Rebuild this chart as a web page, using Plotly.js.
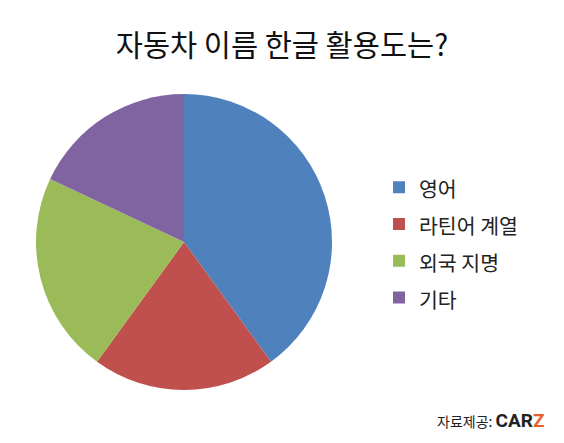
<!DOCTYPE html>
<html>
<head>
<meta charset="utf-8">
<script src="https://cdn.plot.ly/plotly-3.0.1.min.js"></script>
<style>html,body{margin:0;padding:0;background:#fff;}#chart{width:564px;height:443px;}</style>
</head>
<body>
<div id="chart"></div>
<script>
const categories = ['영어', '라틴어 계열', '외국 지명', '기타'];
const shares = [40, 20, 22, 18];
const sliceColors = ['#4f81bd', '#c0504d', '#9bbb59', '#8064a2'];
const titleText = '자동차 이름 한글 활용도는?';
const sourceLabel = '자료제공:';
const sourceBrand = ['CAR', 'Z'];

const FONT = '"Noto Sans CJK KR", "Noto Sans", sans-serif';

const trace = {
  type: 'pie',
  labels: categories.map(c => '<span style="font-size:20.5px">' + c + '</span>'),
  values: shares,
  sort: false,
  direction: 'clockwise',
  rotation: 0,
  textinfo: 'none',
  hoverinfo: 'label+percent',
  marker: { colors: sliceColors, line: { width: 0 } },
  domain: { x: [0.0638, 0.5887], y: [0.1196, 0.7878] }
};

const layout = {
  width: 564,
  height: 443,
  margin: { l: 0, r: 0, t: 0, b: 0 },
  paper_bgcolor: '#ffffff',
  font: { family: FONT, color: '#222' },
  title: {
    text: titleText,
    font: { family: FONT, size: 29.5, color: '#111', weight: 400 },
    x: 0.5, xanchor: 'center',
    y: 0.898, yanchor: 'middle'
  },
  showlegend: true,
  legend: {
    x: 0.672, xanchor: 'left',
    y: 0.452, yanchor: 'middle',
    font: { family: FONT, size: 26, color: '#222' },
    bgcolor: 'rgba(0,0,0,0)'
  },
  annotations: [{
    xref: 'paper', yref: 'paper',
    x: 0.968, y: 0.05, xanchor: 'right', yanchor: 'middle',
    showarrow: false,
    text: '<span style="font-size:14px">' + sourceLabel + ' </span>' +
          '<b><span style="font-size:19px;font-family:\'Roboto\', sans-serif;color:#222">' + sourceBrand[0] + '</span>' +
          '<span style="font-size:19px;font-family:\'Roboto\', sans-serif;color:#e5602d">' + sourceBrand[1] + '</span></b>',
    font: { family: FONT, size: 14, color: '#222' }
  }]
};

Plotly.newPlot('chart', [trace], layout, { displayModeBar: false, staticPlot: true });
</script>
</body>
</html>
